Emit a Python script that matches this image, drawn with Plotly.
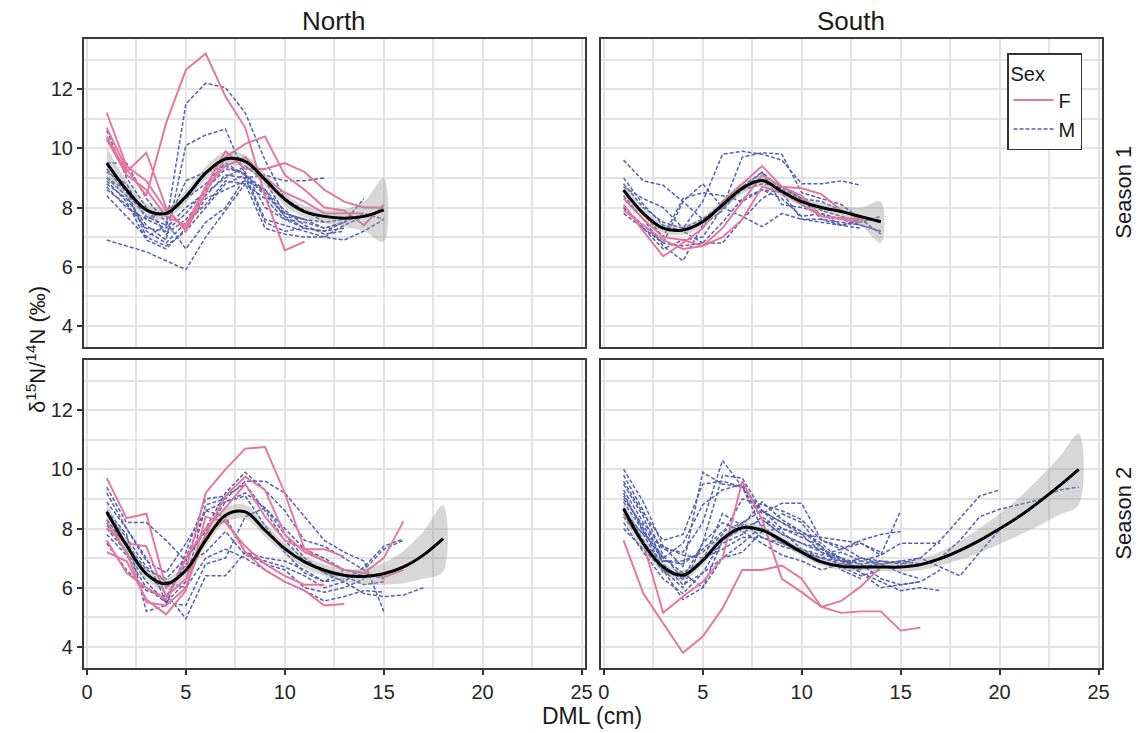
import plotly.graph_objects as go

# ---------------- data (DML = 1, 2, 3 ... cm for each individual) ----------------
NS1_F = [
    [10.7, 9.3, 8.4, 10.85, 12.65, 13.2, 11.75, 10.7, 8.4, 6.55, 6.85],
    [11.2, 9.4, 8.9, 7.9, 7.3, 8.7, 9.9, 9.3, 9.3, 9.5, 9.2, 8.6, 8.2, 8.0, 8.0],
    [10.4, 9.2, 9.85, 8.0, 7.2, 8.5, 9.7, 10.15, 10.4, 9.1, 8.6, 8.0, 7.9, 7.4, 8.1],
    [10.3, 9.1, 8.6, 7.7, 7.4, 8.7, 9.4, 9.7, 9.0, 8.5, 8.2, 7.8, 7.8, 7.8],
]
NS1_M = [
    [9.0, 8.6, 7.0, 7.4, 11.5, 12.2, 12.05, 11.2, 9.6, 8.3, 7.9, 7.5],
    [8.8, 8.3, 7.4, 6.9, 10.1, 10.45, 10.65, 9.1, 8.6, 7.7, 7.3, 7.2, 7.5],
    [6.9, 6.7, 6.5, 6.2, 5.9, 7.0, 7.9, 8.8, 8.3, 7.6, 7.3, 7.2, 7.3],
    [9.5, 9.5, 8.3, 7.5, 6.6, 7.5, 8.0, 9.0, 9.1, 8.9, 8.9, 9.0],
    [8.6, 8.1, 7.3, 7.2, 7.8, 8.6, 9.3, 9.2, 8.0, 7.6, 7.5, 7.3, 7.5, 7.8, 7.6],
    [8.4, 7.7, 7.0, 6.7, 7.2, 8.0, 8.8, 9.1, 7.6, 7.4, 7.2, 7.0, 6.9, 7.2, 7.6],
    [9.2, 8.8, 7.6, 7.3, 8.0, 8.5, 9.0, 9.4, 8.9, 7.8, 7.6, 7.3, 7.5, 8.3],
    [8.9, 8.2, 6.9, 6.6, 7.3, 8.3, 8.6, 8.9, 8.6, 7.9, 7.4, 7.1, 7.2],
    [9.3, 8.5, 7.7, 7.4, 8.9, 9.2, 9.4, 9.1, 8.4, 7.8, 7.6, 7.5, 7.6],
    [8.7, 8.0, 7.6, 7.9, 8.3, 8.8, 9.5, 9.1, 8.5, 7.7, 7.6],
    [9.0, 8.4, 7.2, 6.8, 7.5, 8.1, 8.9, 8.8, 7.3, 7.1, 7.0, 7.0, 7.4, 7.7],
    [10.6, 9.0, 8.0, 7.1, 7.6, 8.4, 9.1, 9.0, 7.5, 7.2, 7.3],
]
NS2_F = [
    [9.7, 8.35, 8.5, 6.0, 6.6, 9.2, 10.0, 10.7, 10.75, 9.2, 7.3, 7.3, 7.05],
    [8.0, 7.5, 7.4, 5.7, 6.3, 7.8, 9.1, 9.75, 9.3, 7.8, 7.2, 6.9, 6.6, 6.5, 7.0, 8.25],
    [7.2, 6.9, 5.6, 5.1, 5.9, 8.4, 8.2, 7.4, 6.8, 6.4, 6.1, 6.1],
    [8.2, 7.2, 5.5, 5.4, 6.0, 7.8, 8.3, 7.2, 6.6, 6.2, 5.9, 5.4, 5.45],
    [7.6, 6.5, 6.0, 5.6, 7.0, 8.0, 8.7, 9.5, 8.4, 7.6, 7.3, 6.9, 6.6, 6.5, 6.35, 6.6],
]
NS2_M = [
    [9.4, 8.2, 8.2, 7.6, 6.9, 8.0, 9.2, 9.9, 9.3, 8.6, 7.6, 7.4, 7.0, 6.6, 7.3, 7.6],
    [9.2, 8.0, 7.0, 5.5, 6.2, 8.8, 9.0, 9.6, 9.6, 9.2, 8.4, 7.6, 7.2, 6.9, 5.2],
    [8.6, 7.8, 5.2, 5.4, 7.2, 9.0, 9.1, 9.5, 8.6, 7.6, 6.9, 6.5, 6.2, 5.8, 5.7, 5.75, 6.0],
    [8.3, 7.4, 6.5, 5.8, 4.95, 6.4, 6.4, 7.2, 7.0, 6.9, 6.6, 6.2, 6.6, 6.4],
    [8.0, 7.2, 6.2, 5.5, 5.4, 6.8, 7.0, 8.4, 8.7, 8.0, 7.3, 7.0, 6.6, 6.5, 6.3],
    [7.5, 6.6, 5.9, 5.7, 6.8, 7.2, 7.9, 7.1, 6.9, 6.7, 6.4, 6.0, 6.2, 6.7, 7.4, 7.65],
    [8.9, 8.0, 6.9, 6.5, 7.5, 8.6, 8.4, 7.2, 6.8, 6.6, 6.0, 5.85, 6.0, 6.3],
    [7.8, 7.1, 6.0, 5.5, 7.0, 7.9, 8.9, 9.2, 8.7, 7.8, 7.0, 6.5, 6.4, 6.1, 6.2],
    [8.1, 7.5, 6.6, 6.3, 7.0, 8.6, 8.9, 9.1, 8.1, 7.2, 6.5, 6.2, 6.3],
    [8.5, 7.7, 6.7, 6.2, 6.0, 7.0, 7.3, 7.0, 6.6, 6.2, 5.9, 5.55, 5.7, 5.9, 5.85],
]
SS1_F = [
    [8.1, 7.2, 6.35, 6.8, 7.3, 8.2, 8.8, 9.4, 8.7, 8.65, 8.45, 7.9, 7.6],
    [7.9, 7.4, 6.9, 6.6, 6.7, 7.0, 7.6, 8.7, 8.5, 8.1, 7.7, 7.65, 7.6, 7.55],
    [8.3, 7.6, 7.0, 6.9, 6.7, 7.3, 8.2, 9.1, 8.7, 8.4, 7.7, 7.6, 7.5],
]
SS1_M = [
    [9.6, 8.9, 8.75, 8.2, 7.6, 8.0, 8.6, 9.2, 8.6, 8.3, 8.2, 7.9, 7.6],
    [8.8, 8.0, 7.5, 7.3, 8.2, 9.8, 9.9, 9.8, 9.6, 8.8, 8.8, 8.9, 8.75],
    [8.4, 7.6, 6.7, 6.2, 7.4, 7.9, 8.7, 9.2, 8.1, 8.0, 7.8, 7.6, 7.4, 7.2],
    [8.0, 7.4, 6.8, 8.2, 8.8, 8.0, 7.7, 7.35, 7.8, 7.6, 7.5, 7.4, 7.3],
    [7.8, 7.3, 6.8, 6.7, 6.8, 7.5, 8.3, 8.6, 8.5, 7.6, 7.6, 7.5, 7.4, 7.2],
    [8.6, 7.8, 7.0, 8.3, 8.5, 8.4, 8.2, 8.6, 8.3, 7.7, 7.8, 7.4, 7.5],
    [8.0, 7.3, 6.6, 6.9, 7.0, 8.0, 9.7, 9.85, 9.8, 8.5, 8.3, 8.1, 7.6, 7.1],
    [9.0, 8.1, 7.4, 7.2, 6.8, 6.8, 7.6, 8.3, 8.7, 8.3, 7.6, 7.4, 7.6],
    [8.7, 8.3, 8.0, 7.3, 7.6, 8.1, 8.6, 8.8, 8.7, 8.3, 7.9, 7.7, 7.5, 7.7],
]
SS2_F = [
    [7.6, 5.8, 4.8, 3.8, 4.35, 5.3, 6.6, 6.6, 6.75, 6.3, 5.35, 5.55, 6.05, 6.7],
    [8.5, 7.5, 5.15, 5.7, 6.2, 7.0, 9.6, 8.3, 6.3, 5.85, 5.35, 5.15, 5.2, 5.2, 4.55, 4.65],
]
SS2_M = [
    [10.0, 8.9, 7.4, 6.7, 9.9, 9.5, 9.4, 8.3, 7.8, 7.5, 7.2, 7.0, 6.6],
    [9.3, 8.2, 7.3, 7.2, 8.2, 10.3, 9.4, 8.0, 7.5, 7.3, 7.1, 7.3, 7.5, 7.1, 8.6],
    [9.8, 8.6, 7.1, 6.3, 7.5, 9.8, 9.7, 8.6, 8.0, 7.8, 7.7, 7.6, 7.5, 7.2],
    [9.0, 8.1, 7.0, 7.5, 8.8, 9.3, 9.5, 8.5, 8.85, 8.85, 7.6, 7.4, 7.0, 6.9, 6.85, 6.7],
    [8.6, 7.8, 6.6, 6.3, 6.9, 8.5, 8.1, 8.9, 8.3, 7.9, 7.5, 6.9, 6.5, 6.0, 6.1, 6.2, 6.6],
    [8.4, 7.5, 6.9, 6.8, 7.3, 7.9, 8.2, 7.7, 7.4, 7.2, 7.0, 7.2, 6.9, 6.8, 6.9, 7.0, 7.6, 8.35, 9.1, 9.3],
    [8.2, 7.2, 6.3, 5.8, 6.5, 7.6, 8.0, 8.3, 7.8, 7.5, 7.3, 7.0, 6.8, 6.9, 6.8, 7.0, 6.7, 6.4, 7.2, 7.95],
    [8.9, 7.9, 7.0, 6.5, 6.9, 7.5, 7.8, 8.4, 7.9, 7.3, 7.0, 6.8, 6.7, 6.8, 6.9, 6.8, 7.0, 7.6, 8.4, 8.65, 8.8, 8.97, 9.3, 9.4],
    [9.5, 8.4, 6.8, 6.1, 6.5, 7.0, 7.5, 8.1, 8.5, 8.2, 7.3, 7.0, 6.5, 6.2, 5.9, 6.0, 5.9],
    [8.7, 7.6, 6.5, 6.5, 6.0, 7.6, 8.2, 8.6, 8.2, 7.8, 7.2, 6.9, 6.8, 6.3, 6.1, 6.2],
    [9.2, 7.9, 6.9, 6.9, 7.2, 7.8, 9.0, 8.8, 8.6, 8.3, 7.6, 7.3, 7.6, 7.8, 7.9],
    [8.0, 7.3, 6.6, 5.6, 6.0, 7.0, 7.2, 7.9, 8.0, 7.7, 7.4, 6.7, 6.4, 6.6],
    [9.6, 8.5, 7.6, 7.8, 9.5, 9.6, 9.4, 8.6, 8.2, 7.9, 7.4, 6.6, 6.3],
    [8.5, 7.8, 7.4, 7.1, 7.0, 7.3, 7.7, 7.7, 7.5, 7.2, 7.0, 6.9, 6.9, 7.1, 7.5, 7.5, 7.5],
    [9.1, 8.0, 6.6, 6.0, 7.5, 8.2, 7.9, 7.5, 7.1, 6.9, 6.6, 6.8, 7.0, 6.8, 6.5, 6.3],
]

# smoothed fit (GAM) with confidence band, at DML = 1, 2, ...
NS1_FIT = [9.5, 8.6, 7.92, 7.8, 8.37, 9.16, 9.64, 9.56, 8.94, 8.28, 7.86, 7.7, 7.64, 7.7, 7.92]
NS1_HI = [10.05, 8.9, 8.14, 8.0, 8.57, 9.38, 9.89, 9.78, 9.14, 8.48, 8.06, 7.92, 7.94, 8.2, 9.0]
NS1_LO = [8.95, 8.3, 7.7, 7.6, 8.17, 8.94, 9.39, 9.34, 8.74, 8.08, 7.66, 7.48, 7.34, 7.2, 6.85]
NS2_FIT = [8.56, 7.43, 6.47, 6.13, 6.59, 7.6, 8.45, 8.56, 7.94, 7.32, 6.87, 6.59, 6.42, 6.38, 6.47, 6.7, 7.1, 7.66]
NS2_HI = [8.9, 7.65, 6.67, 6.33, 6.79, 7.82, 8.7, 8.8, 8.16, 7.52, 7.07, 6.79, 6.64, 6.65, 6.85, 7.25, 7.9, 8.78]
NS2_LO = [8.2, 7.2, 6.27, 5.93, 6.39, 7.38, 8.2, 8.32, 7.72, 7.12, 6.67, 6.39, 6.2, 6.1, 6.1, 6.15, 6.3, 6.55]
SS1_FIT = [8.59, 7.8, 7.3, 7.24, 7.52, 8.09, 8.65, 8.91, 8.54, 8.2, 8.0, 7.86, 7.69, 7.52]
SS1_HI = [8.85, 7.98, 7.45, 7.4, 7.68, 8.27, 8.85, 9.1, 8.7, 8.35, 8.15, 8.05, 8.0, 8.2]
SS1_LO = [8.33, 7.62, 7.15, 7.08, 7.36, 7.91, 8.45, 8.72, 8.38, 8.05, 7.85, 7.67, 7.38, 6.8]
SS2_FIT = [8.67, 7.49, 6.7, 6.42, 6.92, 7.65, 8.03, 7.94, 7.6, 7.2, 6.87, 6.72, 6.7, 6.7, 6.7, 6.78,
           6.98, 7.26, 7.6, 7.99, 8.41, 8.9, 9.43, 10.0]
SS2_HI = [9.0, 7.7, 6.88, 6.6, 7.08, 7.8, 8.18, 8.08, 7.74, 7.33, 7.0, 6.85, 6.83, 6.84, 6.86, 6.97,
          7.22, 7.58, 8.02, 8.5, 9.05, 9.7, 10.4, 11.2]
SS2_LO = [8.34, 7.28, 6.52, 6.24, 6.76, 7.5, 7.88, 7.8, 7.46, 7.07, 6.74, 6.59, 6.57, 6.56, 6.54, 6.59,
          6.74, 6.94, 7.18, 7.48, 7.77, 8.1, 8.46, 8.8]

REGIONS = ["North", "South"]
SEASONS = ["Season 1", "Season 2"]
X_TICKS = [0, 5, 10, 15, 20, 25]
Y_TICKS = [4, 6, 8, 10, 12]

PINK = "#E8739B"
BLUE = "#5361AE"

# ---------------- figure ----------------
fig = go.Figure()

panels = [
    ("x", "y", NS1_F, NS1_M, NS1_FIT, NS1_HI, NS1_LO),
    ("x2", "y2", SS1_F, SS1_M, SS1_FIT, SS1_HI, SS1_LO),
    ("x3", "y3", NS2_F, NS2_M, NS2_FIT, NS2_HI, NS2_LO),
    ("x4", "y4", SS2_F, SS2_M, SS2_FIT, SS2_HI, SS2_LO),
]

shown = {"F": False, "M": False}
for xa, ya, fl, ml, fit, hi, lo in panels:
    for sex, group, color, dash, width in (("M", ml, BLUE, "4px,2px", 1.5), ("F", fl, PINK, "solid", 1.9)):
        for vals in group:
            xs = list(range(1, len(vals) + 1))
            fig.add_trace(go.Scatter(
                x=xs, y=vals, mode="lines", xaxis=xa, yaxis=ya,
                line=dict(color=color, width=width, dash=dash),
                name=sex, legendgroup=sex, showlegend=not shown[sex],
                legendrank=1 if sex == "F" else 2,
                hoverinfo="skip"))
            shown[sex] = True
    xs = list(range(1, len(fit) + 1))
    fig.add_trace(go.Scatter(
        x=xs + xs[::-1], y=hi + lo[::-1], mode="lines", fill="toself",
        fillcolor="rgba(150,150,150,0.38)", line=dict(width=0, shape="spline"),
        xaxis=xa, yaxis=ya, showlegend=False, hoverinfo="skip"))
    fig.add_trace(go.Scatter(
        x=xs, y=fit, mode="lines", line=dict(color="black", width=3, shape="spline", smoothing=1.0),
        xaxis=xa, yaxis=ya, showlegend=False, hoverinfo="skip"))

W, H = 1139, 733
XDOM = [[84 / W, 584.5 / W], [600.8 / W, 1101.5 / W]]
YDOM = [[1 - 346.6 / H, 1 - 38.8 / H], [1 - 667.6 / H, 1 - 359.8 / H]]

GRID = "#E3E3E3"
FONT = "Liberation Sans, Arial, sans-serif"
TICKFONT = dict(family=FONT, size=20, color="#262626")

axes = {}
for i, (r, c) in enumerate([(0, 0), (0, 1), (1, 0), (1, 1)]):
    n = "" if i == 0 else str(i + 1)
    axes["xaxis" + n] = dict(
        domain=XDOM[c], anchor="y" + n, range=[-0.15, 25.15], automargin=False,
        tickmode="array", tickvals=X_TICKS, ticktext=[str(v) for v in X_TICKS],
        showticklabels=(r == 1), ticks="outside" if r == 1 else "", ticklen=5, tickwidth=1.5,
        tickcolor="#333333", tickfont=TICKFONT,
        showgrid=True, gridcolor=GRID, gridwidth=2,
        minor=dict(tick0=0, dtick=2.5, showgrid=True, gridcolor=GRID, gridwidth=2),
        zeroline=False, showline=True, mirror=True, linecolor="#3a3a3a", linewidth=2.2,
    )
    axes["yaxis" + n] = dict(
        domain=YDOM[r], anchor="x" + n, range=[3.3, 13.7], automargin=False,
        tickmode="array", tickvals=Y_TICKS, ticktext=[str(v) for v in Y_TICKS],
        showticklabels=(c == 0), ticks="outside" if c == 0 else "", ticklen=5, tickwidth=1.5,
        tickcolor="#333333", tickfont=TICKFONT,
        showgrid=True, gridcolor=GRID, gridwidth=2,
        minor=dict(tick0=0, dtick=1, showgrid=True, gridcolor=GRID, gridwidth=2),
        zeroline=False, showline=True, mirror=True, linecolor="#3a3a3a", linewidth=2.2,
    )

ann = []
for c, name in enumerate(REGIONS):
    ann.append(dict(text=name, x=(XDOM[c][0] + XDOM[c][1]) / 2, y=1 - 21 / H, xref="paper", yref="paper",
                    showarrow=False, xanchor="center", yanchor="middle",
                    font=dict(family=FONT, size=26, color="#1a1a1a")))
for r, name in enumerate(SEASONS):
    ann.append(dict(text=name, x=1124 / W, y=(YDOM[r][0] + YDOM[r][1]) / 2, xref="paper", yref="paper",
                    showarrow=False, xanchor="center", yanchor="middle", textangle=-90,
                    font=dict(family=FONT, size=22, color="#1a1a1a")))
ann.append(dict(text="δ<sup>15</sup>N/<sup>14</sup>N (‰)", x=36 / W, y=1 - 350 / H, xref="paper", yref="paper",
                showarrow=False, xanchor="center", yanchor="middle", textangle=-90,
                font=dict(family=FONT, size=22, color="#1a1a1a")))
ann.append(dict(text="DML (cm)", x=592 / W, y=1 - 716 / H, xref="paper", yref="paper",
                showarrow=False, xanchor="center", yanchor="middle",
                font=dict(family=FONT, size=23, color="#1a1a1a")))

fig.update_layout(
    width=W, height=H, margin=dict(l=0, r=0, t=0, b=0, autoexpand=False),
    paper_bgcolor="white", plot_bgcolor="white",
    annotations=ann,
    legend=dict(
        title=dict(text="Sex", font=dict(family=FONT, size=20, color="#1a1a1a")),
        font=dict(family=FONT, size=20, color="#1a1a1a"),
        x=1082 / W, y=1 - 53 / H, xanchor="right", yanchor="top",
        bordercolor="#333333", borderwidth=1.5, bgcolor="white",
        tracegroupgap=0, itemwidth=40,
    ),
    **axes,
)

# remove the browser's default 8px page margin so the figure sits at the window origin
fig.write_html("out.html", config={"displayModeBar": False},
               post_script="document.body.style.margin='0';document.body.style.overflow='hidden';")
